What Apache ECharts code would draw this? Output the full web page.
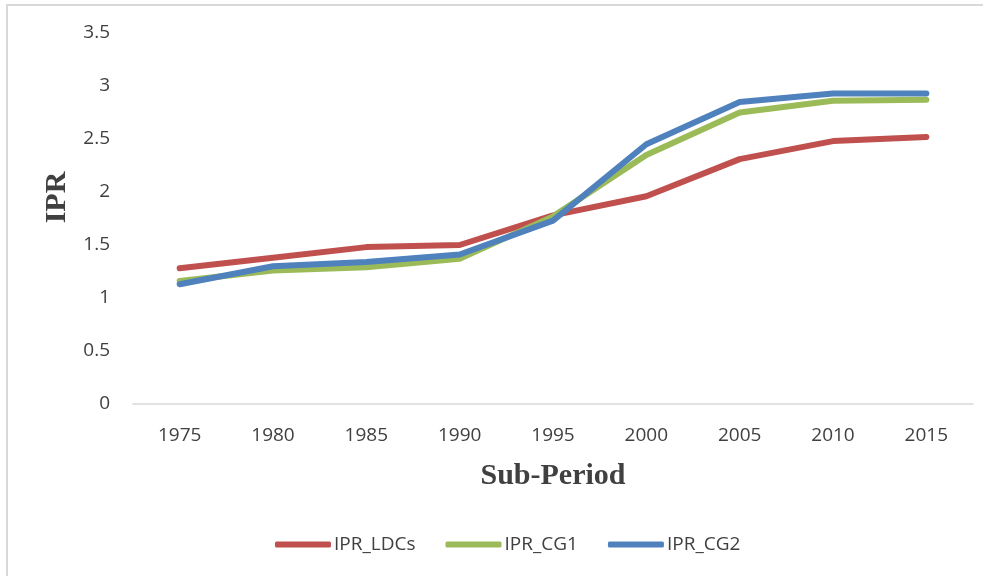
<!DOCTYPE html>
<html>
<head>
<meta charset="utf-8">
<script src="https://cdn.jsdelivr.net/npm/echarts@6/dist/echarts.min.js"></script>
<style>
html,body{margin:0;padding:0;background:#fff;}
#chart{width:983px;height:576px;}
</style>
</head>
<body>
<div id="chart"></div>
<script>
// sub-periods on the x axis
var periods = ['1975', '1980', '1985', '1990', '1995', '2000', '2005', '2010', '2015'];
// IPR values
var iprLDCs = [1.28, 1.38, 1.48, 1.50, 1.78, 1.96, 2.31, 2.48, 2.52];
var iprCG1  = [1.16, 1.26, 1.29, 1.37, 1.77, 2.35, 2.75, 2.86, 2.87];
var iprCG2  = [1.13, 1.30, 1.34, 1.41, 1.73, 2.45, 2.85, 2.93, 2.93];

var colors = ['#c0504d', '#9bbb59', '#4f81bd'];
var labelFont = '"Open Sans", "Noto Sans", sans-serif';

function line(name, data, color) {
    return {
        name: name,
        type: 'line',
        data: data,
        symbol: 'none',
        lineStyle: { width: 6, color: color, cap: 'round', join: 'round' },
        itemStyle: { color: color }
    };
}

var chart = echarts.init(document.getElementById('chart'));
chart.setOption({
    animation: false,
    backgroundColor: '#fff',
    graphic: [{
        type: 'rect',
        shape: { x: 7, y: 5, width: 1000, height: 600 },
        style: { fill: 'none', stroke: '#d9d9d9', lineWidth: 2 },
        silent: true
    }],
    grid: { left: 133, right: 10, top: 33, bottom: 172 },
    legend: {
        bottom: 17,
        left: 270,
        itemWidth: 56,
        itemHeight: 6,
        itemGap: 30,
        icon: 'roundRect',
        textStyle: { fontFamily: labelFont, fontSize: 19, color: '#404040', padding: [0, 0, 0, -2] },
        data: ['IPR_LDCs', 'IPR_CG1', 'IPR_CG2']
    },
    xAxis: {
        type: 'category',
        data: periods,
        boundaryGap: true,
        axisLine: { lineStyle: { color: '#d9d9d9', width: 1.5 } },
        axisTick: { show: false },
        axisLabel: { fontFamily: labelFont, fontSize: 19, color: '#404040', margin: 22 },
        name: 'Sub-Period',
        nameLocation: 'middle',
        nameGap: 57,
        nameTextStyle: { fontFamily: '"Liberation Serif", serif', fontWeight: 'bold', fontSize: 30, color: '#404040' }
    },
    yAxis: {
        type: 'value',
        min: 0,
        max: 3.5,
        interval: 0.5,
        splitLine: { show: false },
        axisLine: { show: false },
        axisTick: { show: false },
        axisLabel: { fontFamily: labelFont, fontSize: 19, color: '#404040', margin: 23 },
        name: 'IPR',
        nameLocation: 'middle',
        nameGap: 60,
        nameTextStyle: { fontFamily: '"Liberation Serif", serif', fontWeight: 'bold', fontSize: 30, color: '#404040', padding: [0, 0, 0, 42] }
    },
    series: [
        line('IPR_LDCs', iprLDCs, colors[0]),
        line('IPR_CG1', iprCG1, colors[1]),
        line('IPR_CG2', iprCG2, colors[2])
    ]
});
</script>
</body>
</html>
